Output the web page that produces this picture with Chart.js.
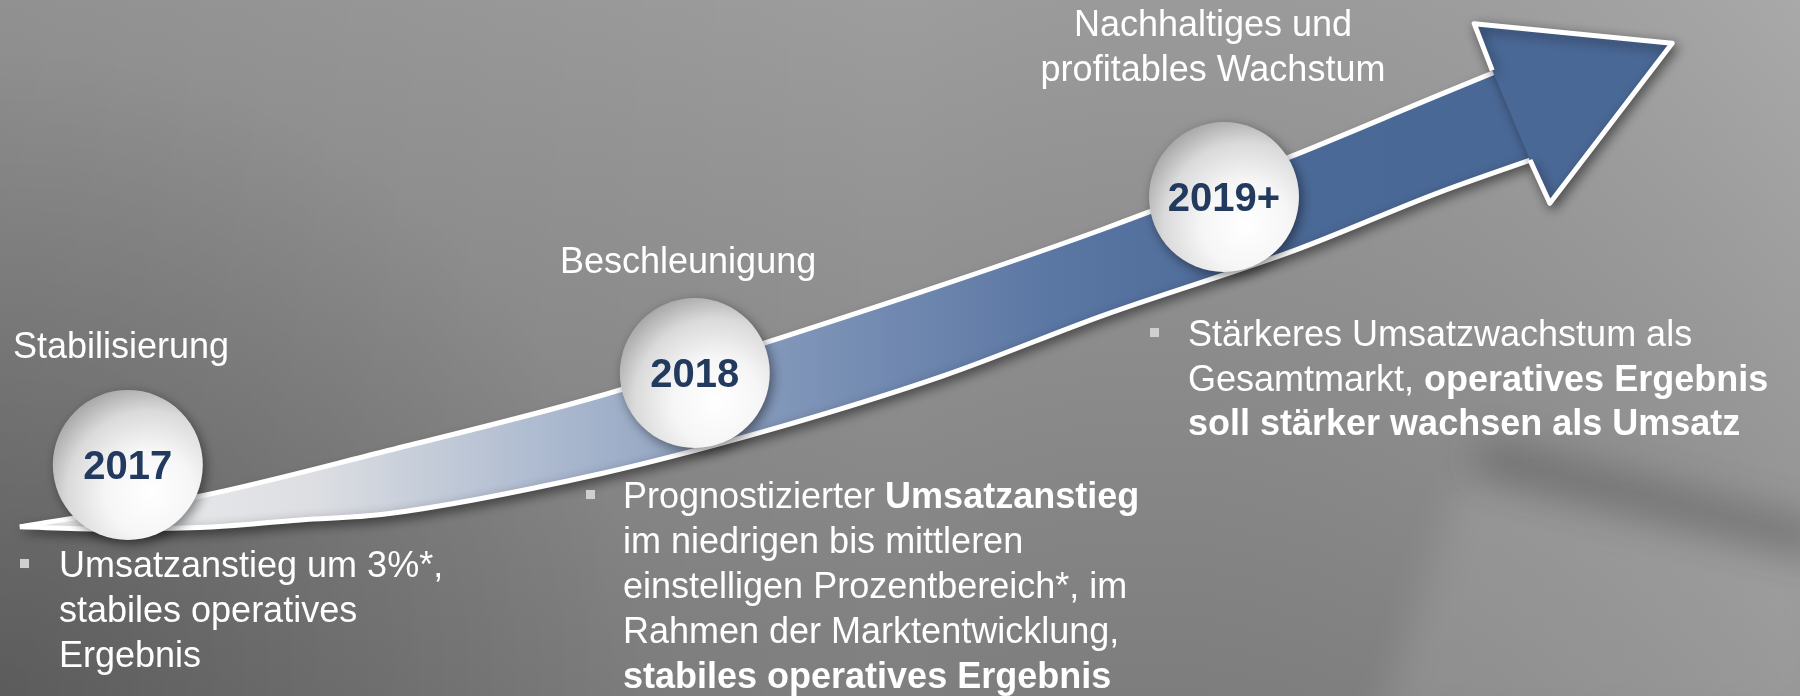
<!DOCTYPE html>
<html lang="de">
<head>
<meta charset="UTF-8">
<title>Wachstumspfad 2017 - 2019+</title>
<style>
    html, body { margin: 0; padding: 0; }
    body { width: 1800px; height: 696px; overflow: hidden; background: #8c8c8c; }
    #chart { display: block; }
</style>
</head>
<body>
<canvas id="chart" width="1800" height="696"></canvas>

<script src="https://cdn.jsdelivr.net/npm/chart.js"></script>
<script>
    // Jahre und Phasen
    const years = ['2017', '2018', '2019+'];
    const phases = [
        ['Stabilisierung'],
        ['Beschleunigung'],
        ['Nachhaltiges und', 'profitables Wachstum']
    ];
    // Stichpunkte, jede Zeile als Liste von [Text, fett]
    const notes = [
        [
            [['Umsatzanstieg um 3%*,', false]],
            [['stabiles operatives', false]],
            [['Ergebnis', false]]
        ],
        [
            [['Prognostizierter ', false], ['Umsatzanstieg', true]],
            [['im niedrigen bis mittleren', false]],
            [['einstelligen Prozentbereich*, im', false]],
            [['Rahmen der Marktentwicklung,', false]],
            [['stabiles operatives Ergebnis', true]]
        ],
        [
            [['Stärkeres Umsatzwachstum als', false]],
            [['Gesamtmarkt, ', false], ['operatives Ergebnis', true]],
            [['soll stärker wachsen als Umsatz', true]]
        ]
    ];

    // Meilensteine (x = Verlauf 0..100, y = Wachstum 0..100)
    const yearX = [7.1, 38.6, 68.0];
    const yearY = [33.2, 46.4, 71.7];

    // Pfeil: Oberkante, Unterkante, Spitze
    const upperX = [1.1, 11.1, 21.3, 33.3, 42.7, 52.4, 61.3, 71.8, 80.0, 85.0];
    const upperY = [24.3, 28.7, 35.1, 43.1, 50.9, 59.1, 67.1, 77.6, 86.4, 91.7];
    const lowerX = [1.1, 5.6, 11.1, 16.7, 21.3, 33.3, 42.7, 52.4, 61.3, 72.0, 80.0, 85.0];
    const lowerY = [24.3, 24.0, 24.2, 25.3, 26.1, 31.9, 38.2, 46.0, 54.7, 64.1, 72.4, 77.0];
    const headX = [82.9, 81.9, 92.9, 86.1, 85.0];
    const headY = [89.9, 96.6, 93.8, 70.8, 77.0];

    const pts = (xs, ys) => xs.map((x, i) => ({ x: x, y: ys[i] }));
    const FONT = "'Liberation Sans', Arial, Helvetica, sans-serif";

    function ribbonGradient(context) {
        const chart = context.chart;
        const area = chart.chartArea;
        if (!area) return '#8499bb';
        const g = chart.ctx.createLinearGradient(20, 0, 1500, 0);
        g.addColorStop(0, '#f2f2f2');
        g.addColorStop(0.2, '#dcdee2');
        g.addColorStop(0.35, '#aebbd0');
        g.addColorStop(0.5, '#8499bb');
        g.addColorStop(0.7, '#5a76a3');
        g.addColorStop(0.85, '#4b6997');
        g.addColorStop(1, '#4a6896');
        return g;
    }

    function ballGradient(context) {
        const chart = context.chart;
        if (!chart.chartArea || !context.raw) return '#eeeeee';
        const cx = chart.scales.x.getPixelForValue(context.raw.x);
        const cy = chart.scales.y.getPixelForValue(context.raw.y);
        const g = chart.ctx.createRadialGradient(cx + 22, cy + 28, 0, cx + 22, cy + 28, 110);
        g.addColorStop(0, '#ffffff');
        g.addColorStop(0.4, '#f6f6f6');
        g.addColorStop(0.75, '#dadada');
        g.addColorStop(1, '#a9a9a9');
        return g;
    }

    // Hintergrund
    const backdrop = {
        id: 'backdrop',
        beforeDraw(chart) {
            const ctx = chart.ctx, w = chart.width, h = chart.height;
            ctx.save();
            let g = ctx.createLinearGradient(0, 0, 0, h);
            g.addColorStop(0, '#9d9d9d');
            g.addColorStop(1, '#7f7f7f');
            ctx.fillStyle = g;
            ctx.fillRect(0, 0, w, h);
            g = ctx.createLinearGradient(0, 0, w, 0);
            g.addColorStop(0, 'rgba(0,0,0,0.08)');
            g.addColorStop(0.5, 'rgba(0,0,0,0)');
            g.addColorStop(1, 'rgba(255,255,255,0.12)');
            ctx.fillStyle = g;
            ctx.fillRect(0, 0, w, h);
            g = ctx.createRadialGradient(0, h, 0, 0, h, 650);
            g.addColorStop(0, 'rgba(0,0,0,0.22)');
            g.addColorStop(1, 'rgba(0,0,0,0)');
            ctx.fillStyle = g;
            ctx.fillRect(0, 0, w, h);
            // Schwung unten rechts
            ctx.filter = 'blur(18px)';
            ctx.fillStyle = 'rgba(200,200,200,0.2)';
            ctx.beginPath();
            ctx.moveTo(1380, 720); ctx.lineTo(1460, 480); ctx.lineTo(1820, 570); ctx.lineTo(1820, 720);
            ctx.closePath();
            ctx.fill();
            ctx.strokeStyle = 'rgba(50,50,50,0.3)';
            ctx.lineWidth = 34;
            ctx.beginPath();
            ctx.moveTo(1480, 455); ctx.lineTo(1820, 540);
            ctx.stroke();
            ctx.restore();
        }
    };

    // Schatten je Datensatz
    function applyShadow(ctx, on) {
        if (on) {
            ctx.shadowColor = 'rgba(0,0,0,0.45)';
            ctx.shadowBlur = 12;
            ctx.shadowOffsetX = 3;
            ctx.shadowOffsetY = 4;
        } else {
            ctx.shadowColor = 'rgba(0,0,0,0)';
            ctx.shadowBlur = 0;
        }
    }
    const shadows = {
        id: 'shadows',
        beforeDatasetsDraw(chart) {
            const metas = chart.getSortedVisibleDatasetMetas();
            chart.ctx.save();
            applyShadow(chart.ctx, chart.data.datasets[metas[metas.length - 1].index].shadow);
        },
        afterDatasetDraw(chart, args) {
            const metas = chart.getSortedVisibleDatasetMetas();
            const pos = metas.indexOf(args.meta);
            const next = metas[pos - 1];
            applyShadow(chart.ctx, next ? chart.data.datasets[next.index].shadow : false);
        },
        afterDatasetsDraw(chart) {
            chart.ctx.restore();
        }
    };

    // Texte
    function drawRuns(ctx, runs, x, y, size) {
        let cx = x;
        runs.forEach(([t, b]) => {
            ctx.font = (b ? 'bold ' : '') + size + 'px ' + FONT;
            ctx.fillText(t, cx, y);
            cx += ctx.measureText(t).width;
        });
    }
    const labels = {
        id: 'labels',
        afterDatasetsDraw(chart) {
            const ctx = chart.ctx;
            ctx.save();
            ctx.fillStyle = '#ffffff';
            ctx.textBaseline = 'alphabetic';

            // Phasen
            const phasePos = [
                { x: 13, y: 358, align: 'left' },
                { x: 560, y: 273, align: 'left' },
                { x: 1213, y: 36, align: 'center' }
            ];
            ctx.font = '36px ' + FONT;
            phases.forEach((lines, i) => {
                ctx.textAlign = phasePos[i].align;
                lines.forEach((l, j) => ctx.fillText(l, phasePos[i].x, phasePos[i].y + j * 45));
            });

            // Stichpunkte
            const notePos = [
                { x: 59, bx: 20, y: 577, step: 45 },
                { x: 623, bx: 586, y: 508, step: 45 },
                { x: 1188, bx: 1150, y: 346, step: 44.5 }
            ];
            ctx.textAlign = 'left';
            notes.forEach((lines, i) => {
                const p = notePos[i];
                ctx.fillStyle = '#cfcfcf';
                ctx.fillRect(p.bx, p.y - 18, 9, 9);
                ctx.fillStyle = '#ffffff';
                lines.forEach((runs, j) => drawRuns(ctx, runs, p.x, p.y + j * p.step, 36));
            });

            // Jahreszahlen auf den Kugeln
            const meta = chart.getDatasetMeta(3);
            ctx.fillStyle = '#223a5e';
            ctx.textAlign = 'center';
            ctx.textBaseline = 'middle';
            ctx.font = 'bold 40px ' + FONT;
            meta.data.forEach((pt, i) => ctx.fillText(years[i], pt.x, pt.y + 3));
            ctx.restore();
        }
    };

    const chart = new Chart(document.getElementById('chart'), {
        type: 'scatter',
        data: {
            datasets: [
                {
                    label: 'Oberkante',
                    data: pts(upperX, upperY),
                    showLine: true,
                    fill: false,
                    cubicInterpolationMode: 'monotone',
                    borderColor: '#ffffff',
                    borderWidth: 5,
                    pointRadius: 0,
                    order: 4,
                    shadow: false
                },
                {
                    label: 'Unterkante',
                    data: pts(lowerX, lowerY),
                    showLine: true,
                    fill: '-1',
                    cubicInterpolationMode: 'monotone',
                    backgroundColor: ribbonGradient,
                    borderColor: '#ffffff',
                    borderWidth: 5,
                    pointRadius: 0,
                    order: 5,
                    shadow: true
                },
                {
                    label: 'Spitze',
                    data: pts(headX, headY),
                    showLine: true,
                    fill: 'shape',
                    tension: 0,
                    backgroundColor: '#4a6896',
                    borderColor: '#ffffff',
                    borderWidth: 5,
                    borderJoinStyle: 'round',
                    pointRadius: 0,
                    order: 3,
                    shadow: true
                },
                {
                    label: 'Jahre',
                    data: pts(yearX, yearY),
                    showLine: false,
                    pointRadius: 75,
                    pointHoverRadius: 75,
                    pointBorderWidth: 0,
                    pointBackgroundColor: ballGradient,
                    order: 1,
                    shadow: true
                }
            ]
        },
        options: {
            responsive: false,
            animation: false,
            events: [],
            layout: { padding: 0, autoPadding: false },
            plugins: {
                legend: { display: false },
                tooltip: { enabled: false }
            },
            scales: {
                x: { type: 'linear', min: 0, max: 100, display: false },
                y: { type: 'linear', min: 0, max: 100, display: false }
            }
        },
        plugins: [backdrop, shadows, labels]
    });
</script>
</body>
</html>
